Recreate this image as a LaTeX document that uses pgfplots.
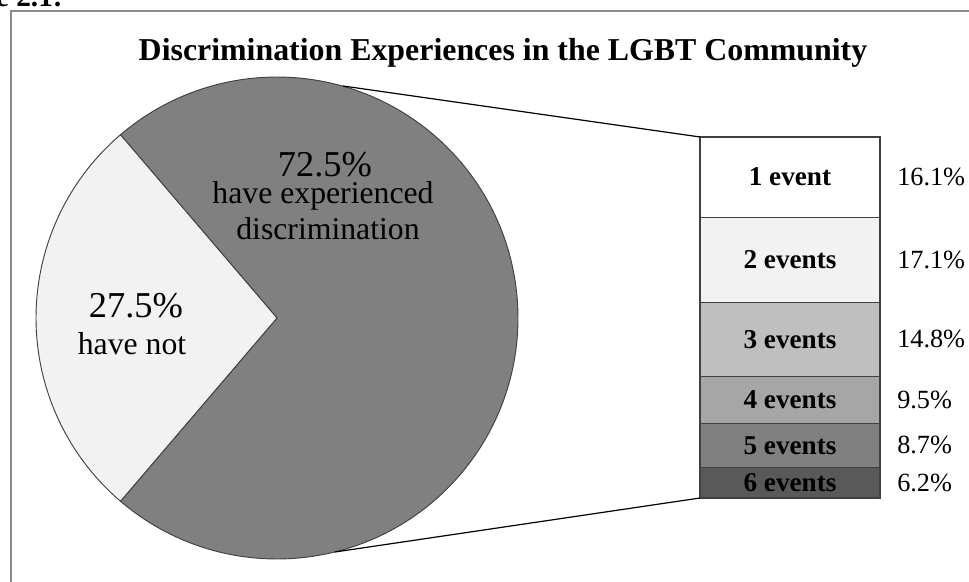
\documentclass[border=0pt]{standalone}
\usepackage{fontspec}
\setmainfont{Liberation Serif}
\usepackage{pgfplots}
\pgfplotsset{compat=1.18}

\definecolor{slnot}{HTML}{F2F2F2}
\definecolor{slyes}{HTML}{808080}
\definecolor{ev1}{HTML}{FFFFFF}
\definecolor{ev2}{HTML}{F2F2F2}
\definecolor{ev3}{HTML}{BFBFBF}
\definecolor{ev4}{HTML}{A6A6A6}
\definecolor{ev5}{HTML}{808080}
\definecolor{ev6}{HTML}{595959}
\definecolor{edge}{HTML}{404040}
\definecolor{framegray}{HTML}{8C8C8C}

% share of respondents who have not experienced discrimination
\def\notval{27.5}
\pgfmathsetmacro{\half}{\notval*3.6/2}

\begin{document}
\begin{tikzpicture}[x=0.75pt,y=0.75pt,
    bl/.style={font=\fontsize{20.4}{24}\selectfont\bfseries, inner sep=0},
    pl/.style={font=\fontsize{19.7}{24}\selectfont, inner sep=0, anchor=west, xshift=12.75pt}]
\useasboundingbox (0,0) rectangle (969,581);
\draw[framegray, line width=1.8pt] (11,-20) -- (11,570) -- (995,570);
\node[anchor=base east, inner sep=0, font=\fontsize{22}{26}\selectfont\bfseries] at (63,574) {Figure 2.1:};
\node[anchor=base, inner sep=0, font=\fontsize{23.9}{28}\selectfont\bfseries] at (503,520)
  {Discrimination Experiences in the LGBT Community};

% pie
\begin{axis}[at={(207.75pt,197.25pt)}, anchor=center, scale only axis,
    width=361.5pt, height=361.5pt, xmin=-1, xmax=1, ymin=-1, ymax=1,
    hide axis, clip=false]
\filldraw[fill=slyes, draw=edge, line width=0.7pt] (axis cs:0,0)
  -- (axis cs:{cos(-180+\half)},{sin(-180+\half)})
  arc[start angle=-180+\half, end angle=180-\half, radius=180.75pt] -- cycle;
\filldraw[fill=slnot, draw=edge, line width=0.7pt] (axis cs:0,0)
  -- (axis cs:{cos(180-\half)},{sin(180-\half)})
  arc[start angle=180-\half, end angle=180+\half, radius=180.75pt] -- cycle;
\end{axis}

% stacked bar of the 72.5%
\begin{axis}[at={(525pt,62.25pt)}, anchor=south west, scale only axis,
    width=135pt, height=270.75pt, xmin=-0.5, xmax=0.5, ymin=0, ymax=72.4,
    ybar stacked, bar width=135pt, hide axis, clip=false]
\addplot[fill=ev6, draw=edge, line width=0.8pt] coordinates {(0,6.2)};
\addplot[fill=ev5, draw=edge, line width=0.8pt] coordinates {(0,8.7)};
\addplot[fill=ev4, draw=edge, line width=0.8pt] coordinates {(0,9.5)};
\addplot[fill=ev3, draw=edge, line width=0.8pt] coordinates {(0,14.8)};
\addplot[fill=ev2, draw=edge, line width=0.8pt] coordinates {(0,17.1)};
\addplot[fill=ev1, draw=edge, line width=0.8pt] coordinates {(0,16.1)};
\coordinate (e6) at (axis cs:0,3.1);
\coordinate (e5) at (axis cs:0,10.55);
\coordinate (e4) at (axis cs:0,19.65);
\coordinate (e3) at (axis cs:0,31.8);
\coordinate (e2) at (axis cs:0,47.75);
\coordinate (e1) at (axis cs:0,64.35);
\coordinate (r6) at (axis cs:0.5,3.1);
\coordinate (r5) at (axis cs:0.5,10.55);
\coordinate (r4) at (axis cs:0.5,19.65);
\coordinate (r3) at (axis cs:0.5,31.8);
\coordinate (r2) at (axis cs:0.5,47.75);
\coordinate (r1) at (axis cs:0.5,64.35);
\end{axis}
\node[bl] at (e6) {6 events};
\node[bl] at (e5) {5 events};
\node[bl] at (e4) {4 events};
\node[bl] at (e3) {3 events};
\node[bl] at (e2) {2 events};
\node[bl] at (e1) {1 event};
\node[pl] at (r6) {6.2\%};
\node[pl] at (r5) {8.7\%};
\node[pl] at (r4) {9.5\%};
\node[pl] at (r3) {14.8\%};
\node[pl] at (r2) {17.1\%};
\node[pl] at (r1) {16.1\%};

% connector lines
\draw[black, line width=0.9pt] (343,495) -- (700,444);
\draw[black, line width=0.9pt] (335,29) -- (700,83);

% pie labels
\node[anchor=base, inner sep=0, font=\fontsize{27.3}{30}\selectfont] at (325,404) {72.5\%};
\node[anchor=base, inner sep=0, font=\fontsize{23.8}{28}\selectfont] at (323,377) {have experienced};
\node[anchor=base, inner sep=0, font=\fontsize{23.8}{28}\selectfont] at (328,341) {discrimination};
\node[anchor=base, inner sep=0, font=\fontsize{27.3}{30}\selectfont] at (136,263) {27.5\%};
\node[anchor=base, inner sep=0, font=\fontsize{23.8}{28}\selectfont] at (132,226) {have not};
\end{tikzpicture}
\end{document}
